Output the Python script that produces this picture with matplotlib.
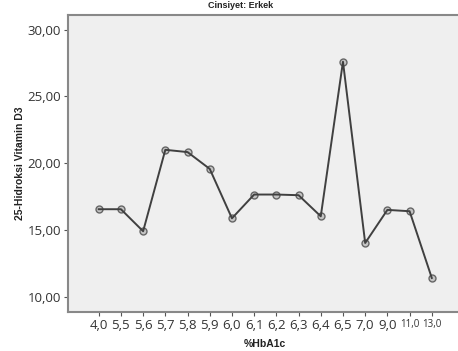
import matplotlib
matplotlib.use("Agg")
import matplotlib.pyplot as plt

categories = ["4,0", "5,5", "5,6", "5,7", "5,8", "5,9", "6,0", "6,1", "6,2",
              "6,3", "6,4", "6,5", "7,0", "9,0", "11,0", "13,0"]
values = [16.55, 16.55, 14.9, 21.0, 20.83, 19.57, 15.87, 17.65, 17.65,
          17.6, 16.02, 27.6, 14.02, 16.5, 16.4, 11.4]
y_ticks = [10, 15, 20, 25, 30]
y_tick_labels = ["10,00", "15,00", "20,00", "25,00", "30,00"]

fig = plt.figure(figsize=(4.58, 3.51), dpi=100)
ax = fig.add_axes([68/458, 1-312/351, (460-68)/458, (312-15)/351])
ax.set_facecolor("#efefef")

x = list(range(len(categories)))
ax.plot(x, values, linestyle="none", marker="o", markersize=5,
        markerfacecolor="#c4c4c4", markeredgecolor="#666666", markeredgewidth=1.0, zorder=2)
ax.plot(x, values, color="#404040", lw=1.4, zorder=3)

ax.set_xlim(-1.383, 16.27)
ax.set_ylim(8.85, 31.1)
ax.set_yticks(y_ticks)
ax.set_yticklabels(y_tick_labels, fontsize=9.5, color="#333333", family="Open Sans")
ax.set_xticks(x)
ax.set_xticklabels(categories, color="#333333", family="Open Sans")
for i, lbl in enumerate(ax.get_xticklabels()):
    lbl.set_fontsize(7 if len(categories[i]) > 3 else 9.5)

ax.tick_params(axis="both", direction="out", length=3, width=0.8, color="#555555", pad=2)
for side in ["left", "bottom", "top", "right"]:
    ax.spines[side].set_color("#888888")
    ax.spines[side].set_linewidth(1.5)

ax.set_ylabel("25-Hidroksi Vitamin D3", fontsize=7.5, fontweight="bold",
              family="Liberation Sans", color="#222222")
ax.yaxis.set_label_coords(-(68-25)/392, 0.5)
ax.set_xlabel("%HbA1c", fontsize=7.5, fontweight="bold", family="Liberation Sans",
              color="#222222")
ax.xaxis.set_label_coords((265-68)/392, -0.09)
fig.text(241/458, 1-5/351, "Cinsiyet: Erkek", fontsize=6.5, fontweight="bold",
         family="Liberation Sans", ha="center", va="center", color="#222222")

fig.savefig("out.png", dpi=100)
